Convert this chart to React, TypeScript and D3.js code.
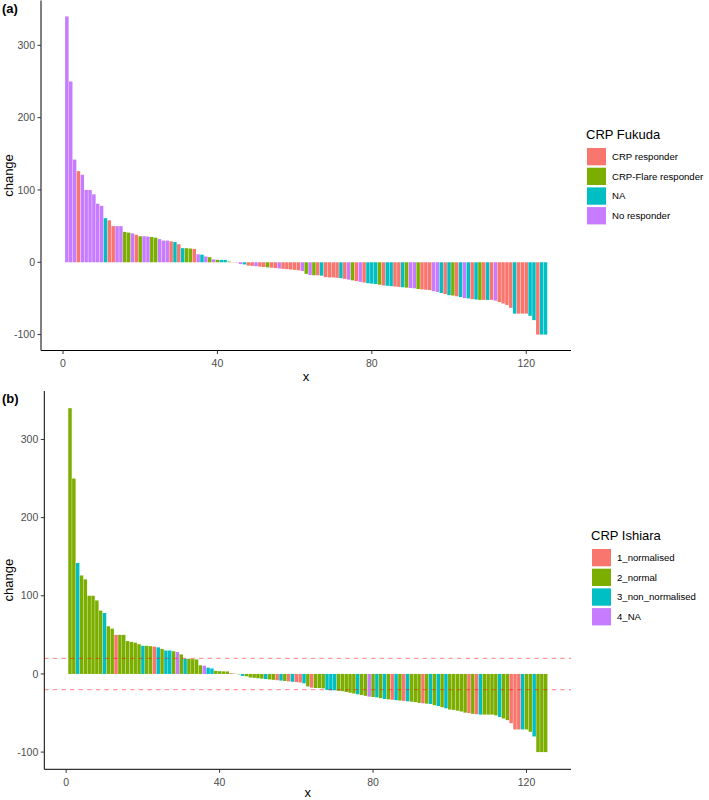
import React from "react";
import * as d3 from "d3";

const changeValues: number[] = [
  340, 250, 142, 126, 121, 100, 100, 94, 81, 78,
  61, 58, 50, 50, 50, 42, 41, 40, 38, 36,
  36, 35.5, 35, 34, 32, 30, 30, 29, 28, 25,
  19.5, 19.5, 19, 18.5, 11, 10.5, 8, 7, 4, 3.5,
  3.3, 3.2, 1, 0.3, -0.5, -2.5, -3, -4.5, -5, -5.5,
  -6, -6.5, -7, -7.5, -8, -8.5, -9, -9.5, -10, -10.5,
  -11, -12, -16, -17.5, -18, -18, -18.5, -20.5, -21, -21,
  -21.5, -22, -23, -24, -25, -26, -27, -28, -29, -29.5,
  -30, -31, -32, -32.5, -33, -33.5, -34, -34.5, -35, -35.5,
  -36, -37, -37.5, -38, -38.5, -40, -41, -42.5, -44, -45.5,
  -46, -47, -48, -49.5, -50, -51, -51.5, -52, -52, -52,
  -52, -53, -55, -57, -59, -63, -71, -71, -71, -71,
  -74, -80, -100, -100, -100,
];

const fukudaCategories: string[] = ["CRP responder", "CRP-Flare responder", "NA", "No responder"];
const ishiaraCategories: string[] = ["1_normalised", "2_normal", "3_non_normalised", "4_NA"];

// index into fukudaCategories, one per bar
const fukudaGroup: number[] = [
  3, 3, 3, 0, 3, 3, 3, 3, 3, 3,
  2, 0, 0, 3, 3, 1, 1, 3, 0, 1,
  3, 3, 1, 1, 3, 3, 3, 0, 2, 0,
  2, 1, 1, 0, 3, 2, 3, 1, 3, 1,
  2, 2, 1, 0, 3, 3, 2, 0, 0, 3,
  0, 0, 1, 0, 0, 3, 0, 0, 0, 0,
  0, 3, 1, 3, 1, 0, 2, 0, 0, 0,
  0, 2, 0, 3, 1, 0, 3, 0, 2, 2,
  2, 1, 0, 2, 2, 0, 0, 2, 1, 3,
  3, 1, 0, 0, 0, 3, 3, 2, 0, 2,
  1, 0, 2, 3, 2, 0, 2, 1, 0, 2,
  0, 3, 0, 0, 0, 0, 2, 0, 0, 0,
  2, 2, 0, 2, 2,
];

// index into ishiaraCategories, one per bar
const ishiaraGroup: number[] = [
  1, 1, 2, 1, 1, 1, 1, 1, 1, 2,
  1, 1, 0, 1, 1, 1, 1, 1, 1, 2,
  1, 1, 0, 2, 1, 2, 2, 1, 3, 1,
  2, 1, 1, 1, 1, 3, 2, 2, 1, 1,
  1, 1, 0, 1, 1, 2, 1, 1, 1, 1,
  1, 2, 1, 1, 0, 2, 1, 0, 2, 0,
  0, 2, 1, 0, 1, 1, 1, 2, 2, 2,
  1, 1, 1, 1, 1, 2, 1, 1, 3, 1,
  2, 1, 2, 1, 0, 2, 1, 0, 2, 1,
  1, 1, 0, 1, 2, 1, 2, 1, 2, 1,
  1, 1, 1, 1, 0, 1, 0, 2, 1, 1,
  1, 1, 2, 1, 1, 0, 0, 0, 2, 1,
  1, 2, 1, 1, 1,
];

const xTicks: number[] = [0, 40, 80, 120];
const yTicks: number[] = [-100, 0, 100, 200, 300];
const thresholdLines: number[] = [20, -20];

const palette = ["#F8766D", "#7CAE00", "#00BFC4", "#C77CFF"];
const FONT = "'Liberation Sans', Arial, Helvetica, sans-serif";

type PanelProps = {
  label: string;
  groups: number[];
  categories: string[];
  legendTitle: string;
  left: number;
  right: number;
  top: number;
  bottom: number;
  legendX: number;
  legendY: number;
  showThresholds: boolean;
  xTitleY: number;
};

function Panel(p: PanelProps) {
  const x = d3.scaleLinear().domain([-5.7, 131.6]).range([p.left, p.right]);
  const y = d3.scaleLinear().domain([-122, 362]).range([p.bottom, p.top]);
  const bw = x(0.9) - x(0);
  const y0 = y(0);
  return (
    <g>
      <text x={2} y={p.top + 12} fontFamily={FONT} fontWeight="bold" fontSize={13} fill="#000">
        {p.label}
      </text>
      {changeValues.map((v, i) => {
        const xi = i + 1;
        const yv = y(v);
        return (
          <rect
            key={i}
            x={x(xi) - bw / 2}
            width={bw}
            y={Math.min(yv, y0)}
            height={Math.abs(yv - y0)}
            fill={palette[p.groups[i]]}
          />
        );
      })}
      {p.showThresholds &&
        thresholdLines.map((t) => (
          <line
            key={t}
            x1={p.left}
            x2={p.right}
            y1={y(t)}
            y2={y(t)}
            stroke="#FF0000"
            strokeOpacity={0.4}
            strokeWidth={1.2}
            strokeDasharray="4.3,4.3"
          />
        ))}
      <line x1={p.left} x2={p.left} y1={p.top} y2={p.bottom} stroke="#000" strokeWidth={1} />
      <line x1={p.left} x2={p.right} y1={p.bottom} y2={p.bottom} stroke="#000" strokeWidth={1} />
      {yTicks.map((t) => (
        <g key={t}>
          <line x1={p.left - 3.5} x2={p.left} y1={y(t)} y2={y(t)} stroke="#333" strokeWidth={1} />
          <text
            x={p.left - 6}
            y={y(t)}
            dy="0.35em"
            textAnchor="end"
            fontFamily={FONT}
            fontSize={10.5}
            fill="#4D4D4D"
          >
            {t}
          </text>
        </g>
      ))}
      {xTicks.map((t) => (
        <g key={t}>
          <line x1={x(t)} x2={x(t)} y1={p.bottom} y2={p.bottom + 3.5} stroke="#333" strokeWidth={1} />
          <text
            x={x(t)}
            y={p.bottom + 16.5}
            textAnchor="middle"
            fontFamily={FONT}
            fontSize={10.5}
            fill="#4D4D4D"
          >
            {t}
          </text>
        </g>
      ))}
      <text
        x={(p.left + p.right) / 2}
        y={p.xTitleY}
        textAnchor="middle"
        fontFamily={FONT}
        fontSize={13}
        fill="#000"
      >
        x
      </text>
      <text
        transform={`translate(${13},${(p.top + p.bottom) / 2}) rotate(-90)`}
        textAnchor="middle"
        fontFamily={FONT}
        fontSize={13}
        fill="#000"
      >
        change
      </text>
      <text x={p.legendX} y={p.legendY} fontFamily={FONT} fontSize={13} fill="#000">
        {p.legendTitle}
      </text>
      {p.categories.map((c, i) => (
        <g key={c}>
          <rect
            x={p.legendX + 1}
            y={p.legendY + 9 + i * 19.7}
            width={19}
            height={17.3}
            fill={palette[i]}
          />
          <text
            x={p.legendX + 26}
            y={p.legendY + 9 + i * 19.7 + 8.65}
            dy="0.35em"
            fontFamily={FONT}
            fontSize={9.6}
            fill="#000"
          >
            {c}
          </text>
        </g>
      ))}
    </g>
  );
}

export default function App() {
  return (
    <svg
      width={709}
      height={800}
      style={{ position: "absolute", left: 0, top: 0, background: "#fff" }}
    >
      <rect width={709} height={800} fill="#fff" />
      <Panel
        label="(a)"
        groups={fukudaGroup}
        categories={fukudaCategories}
        legendTitle="CRP Fukuda"
        left={41}
        right={571}
        top={0.5}
        bottom={350.5}
        legendX={586}
        legendY={139}
        showThresholds={false}
        xTitleY={381}
      />
      <Panel
        label="(b)"
        groups={ishiaraGroup}
        categories={ishiaraCategories}
        legendTitle="CRP Ishiara"
        left={44.3}
        right={571}
        top={391}
        bottom={769.3}
        legendX={591}
        legendY={540}
        showThresholds={true}
        xTitleY={797}
      />
    </svg>
  );
}
